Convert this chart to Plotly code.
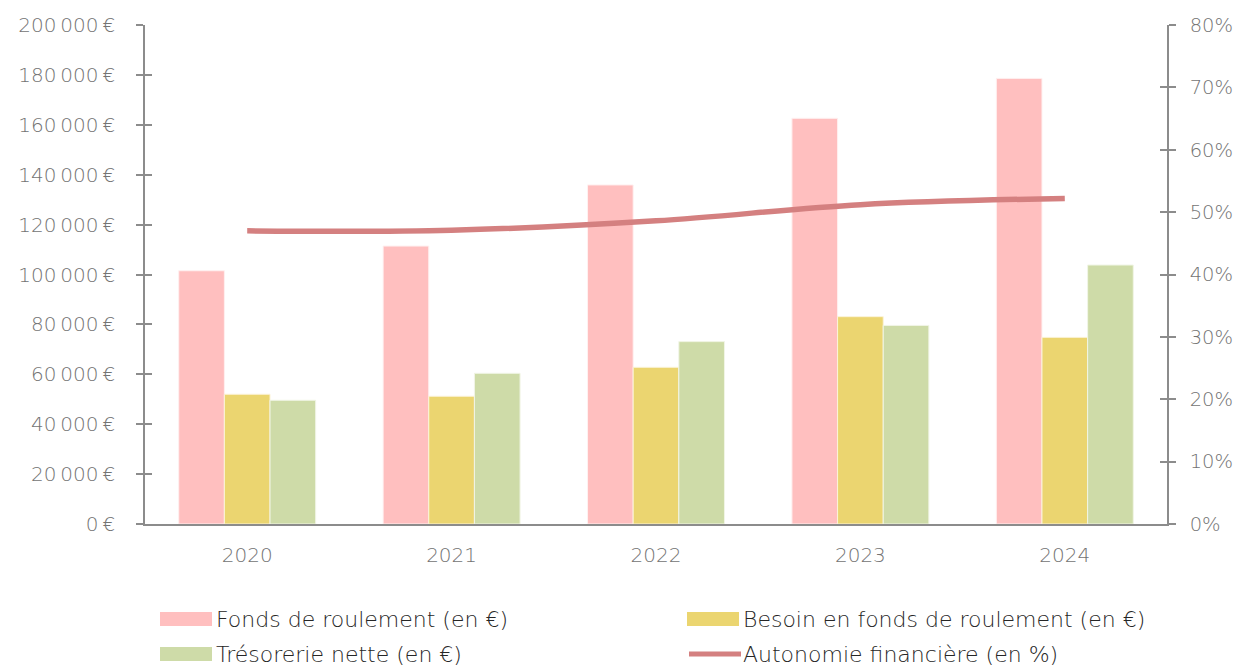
import plotly.graph_objects as go

years = ["2020", "2021", "2022", "2023", "2024"]
fonds_roulement = [101500, 111400, 135900, 162600, 178600]
besoin_fonds = [52000, 51200, 62800, 83100, 74800]
tresorerie = [49600, 60400, 73100, 79600, 103800]
autonomie = [47.0, 47.1, 48.6, 51.2, 52.2]

left_vals = [0, 20000, 40000, 60000, 80000, 100000, 120000, 140000, 160000, 180000, 200000]
left_text = ["0\u202f€", "20\u202f000\u202f€", "40\u202f000\u202f€", "60\u202f000\u202f€", "80\u202f000\u202f€",
             "100\u202f000\u202f€", "120\u202f000\u202f€", "140\u202f000\u202f€", "160\u202f000\u202f€",
             "180\u202f000\u202f€", "200\u202f000\u202f€"]
right_vals = [0, 10, 20, 30, 40, 50, 60, 70, 80]
right_text = ["0%", "10%", "20%", "30%", "40%", "50%", "60%", "70%", "80%"]

names = ["Fonds de roulement (en €)", "Besoin en fonds de roulement (en €)",
         "Trésorerie nette (en €)", "Autonomie financière (en %)"]
colors = ["#ffbfbf", "#ebd570", "#cedba8", "#d48080"]
edge = ["#fff0f0", "#fbf3d8", "#f1f5e6"]

FONT = "DejaVu Sans"
GREY = "#737373"
AX = "#8c8c8c"

W, H = 1236, 668
ML, MR, MT, MB = 145, 69, 25, 144
PW, PH = W - ML - MR, H - MT - MB


def px_x(p):
    return (p - ML) / PW


def px_y(p):
    return (H - MB - p) / PH


fig = go.Figure()
for nm, vals, c, e in zip(names[:3], [fonds_roulement, besoin_fonds, tresorerie], colors[:3], edge):
    fig.add_trace(go.Bar(x=years, y=vals, name=nm,
                         marker=dict(color=c, line=dict(color=e, width=1))))
fig.add_trace(go.Scatter(x=years, y=autonomie, name=names[3], yaxis="y2", mode="lines",
                         line=dict(color=colors[3], width=5.5, shape="spline", smoothing=1.0)))
fig.add_trace(go.Scatter(x=[years[0]], y=[0], yaxis="y3", mode="markers",
                         marker=dict(opacity=0), showlegend=False, hoverinfo="skip"))
fig.add_trace(go.Scatter(x=[years[0]], y=[0], yaxis="y4", mode="markers",
                         marker=dict(opacity=0), showlegend=False, hoverinfo="skip"))

tickfont = dict(family=FONT, size=20, color=GREY, weight=300)
rtickfont = dict(family=FONT, size=19.5, color=GREY, weight=300)

fig.update_layout(
    width=W, height=H,
    margin=dict(l=ML, r=MR, t=MT, b=MB),
    paper_bgcolor="white", plot_bgcolor="white",
    font=dict(family=FONT, size=20, color=GREY, weight=300),
    barmode="group", bargap=0.33, bargroupgap=0,
    showlegend=False,
    xaxis=dict(type="category", showline=True, linecolor=AX, linewidth=2, ticks="",
               showgrid=False, tickfont=tickfont, ticklabelstandoff=12, automargin=False),
    yaxis=dict(range=[0, 200000], tickvals=left_vals, ticktext=left_text, showgrid=False,
               showline=True, linecolor=AX, linewidth=1.5, ticks="outside", ticklen=7,
               tickcolor=AX, tickwidth=1.5, zeroline=False, ticklabelstandoff=17,
               tickfont=tickfont, automargin=False),
    yaxis2=dict(range=[0, 80], tickvals=right_vals, ticktext=right_text, overlaying="y",
                side="right", showgrid=False, showline=True, linecolor=AX, linewidth=1.5,
                ticks="outside", ticklen=7, tickcolor=AX, tickwidth=1.5, zeroline=False,
                ticklabelstandoff=10, tickfont=rtickfont, automargin=False),
    yaxis3=dict(range=[0, 200000], tickvals=left_vals, overlaying="y", side="left",
                showticklabels=False, showgrid=False, ticks="inside", ticklen=7,
                tickcolor=AX, tickwidth=1.5, zeroline=False, showline=False, automargin=False),
    yaxis4=dict(range=[0, 80], tickvals=right_vals, overlaying="y", side="right",
                showticklabels=False, showgrid=False, ticks="inside", ticklen=7,
                tickcolor=AX, tickwidth=1.5, zeroline=False, showline=False, automargin=False),
)

# custom legend (two columns)
leg_cols = [160, 687]
leg_rows = [619, 654]
slots = [(0, 0), (1, 0), (0, 1), (1, 1)]
for i, (nm, c) in enumerate(zip(names, colors)):
    col, row = slots[i]
    x0 = leg_cols[col]
    yc = leg_rows[row]
    if i < 3:
        fig.add_shape(type="rect", xref="paper", yref="paper",
                      x0=px_x(x0), x1=px_x(x0 + 52), y0=px_y(yc - 7), y1=px_y(yc + 7),
                      fillcolor=c, line=dict(width=0))
    else:
        fig.add_shape(type="line", xref="paper", yref="paper",
                      x0=px_x(x0 + 2), x1=px_x(x0 + 54), y0=px_y(yc), y1=px_y(yc),
                      line=dict(color=c, width=5))
    fig.add_annotation(xref="paper", yref="paper", x=px_x(x0 + 54), y=px_y(yc),
                       xanchor="left", yanchor="middle", text=nm, showarrow=False,
                       font=dict(family=FONT, size=22, color="#262626", weight=300))

fig.write_html("out.html")
